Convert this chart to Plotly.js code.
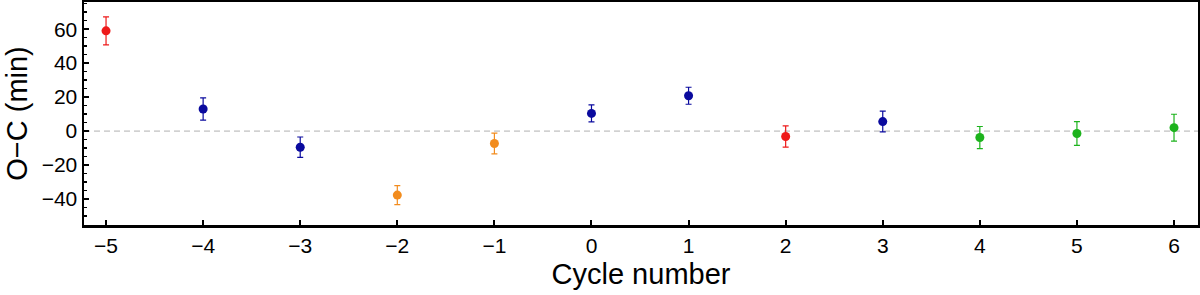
<!DOCTYPE html>
<html><head><meta charset="utf-8">
<script src="https://cdn.plot.ly/plotly-3.0.1.min.js"></script>
<style>html,body{margin:0;padding:0;background:#fff}#chart{width:1200px;height:295px}</style>
</head><body><div id="chart"></div>
<script>
const cycleRed = [-5, 2];
const ocRed = [59, -3.2];
const errRed = [8.3, 6.3];

const cycleBlue = [-4, -3, 0, 1, 3];
const ocBlue = [13, -9.5, 10.4, 20.8, 5.6];
const errBlue = [6.5, 6, 5, 5, 6.1];

const cycleOrange = [-2, -1];
const ocOrange = [-37.7, -7.3];
const errOrange = [5.6, 6.1];

const cycleGreen = [4, 5, 6];
const ocGreen = [-3.8, -1.4, 2];
const errGreen = [6.5, 7, 7.9];

function series(x, y, e, color) {
  return {
    x: x, y: y, type: 'scatter', mode: 'markers',
    marker: {color: color, size: 9},
    error_y: {type: 'data', array: e, visible: true, color: color, thickness: 1.2, width: 3},
    showlegend: false, hoverinfo: 'x+y'
  };
}

const data = [
  series(cycleRed, ocRed, errRed, '#ee1a1a'),
  series(cycleBlue, ocBlue, errBlue, '#0a0a9e'),
  series(cycleOrange, ocOrange, errOrange, '#f28c1e'),
  series(cycleGreen, ocGreen, errGreen, '#1db31d')
];

const font = {family: 'Liberation Sans, Arial, sans-serif', color: '#000'};

const layout = {
  width: 1200, height: 295,
  margin: {l: 84, r: 2, t: 2, b: 70},
  paper_bgcolor: '#fff', plot_bgcolor: '#fff',
  font: font,
  xaxis: {
    range: [-5.227, 6.247],
    tickmode: 'linear', tick0: -5, dtick: 1,
    ticks: 'inside', ticklen: 5, tickwidth: 2, tickcolor: '#000',
    showline: true, linewidth: 2.5, linecolor: '#000', mirror: true,
    showgrid: false, zeroline: false,
    tickfont: {family: font.family, size: 21, color: '#000'},
    title: {text: 'Cycle number', font: {family: font.family, size: 29, color: '#000'}, standoff: 8}
  },
  yaxis: {
    range: [-55.3, 76],
    tickmode: 'linear', tick0: 0, dtick: 20,
    ticks: 'inside', ticklen: 5, tickwidth: 2, tickcolor: '#000',
    minor: {dtick: 5, ticks: 'inside', ticklen: 3, tickwidth: 1.5, tickcolor: '#000'},
    showline: true, linewidth: 2.5, linecolor: '#000', mirror: true,
    showgrid: false, zeroline: false,
    tickfont: {family: font.family, size: 21, color: '#000'},
    title: {text: 'O−C (min)', font: {family: font.family, size: 29, color: '#000'}, standoff: 6}
  },
  shapes: [{
    type: 'line', xref: 'paper', x0: 0, x1: 1, yref: 'y', y0: 0, y1: 0,
    line: {color: '#b0b0b0', width: 1, dash: '6px,4px'}, layer: 'below'
  }]
};

Plotly.newPlot('chart', data, layout, {displayModeBar: false, staticPlot: true});
</script></body></html>
